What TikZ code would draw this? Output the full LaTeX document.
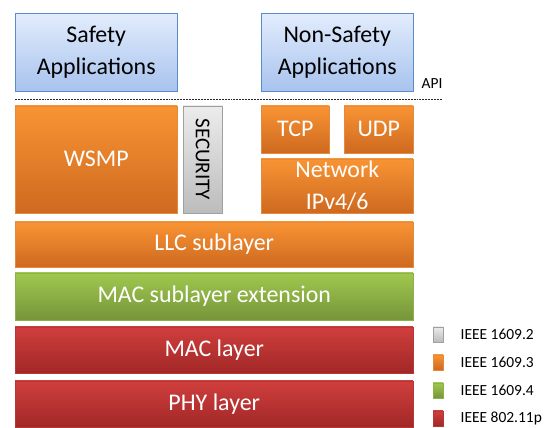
\documentclass[tikz,border=0pt]{standalone}
\usepackage{fontspec}
\setmainfont{Carlito}
\usepackage{tikz}
\usetikzlibrary{positioning}
\usetikzlibrary{shadows}

\definecolor{appTop}{HTML}{E2ECFC}
\definecolor{appBot}{HTML}{A8C3EE}
\definecolor{appEdge}{HTML}{5B8BC9}
\definecolor{orTop}{HTML}{F99434}
\definecolor{orBot}{HTML}{CE6920}
\definecolor{orEdge}{HTML}{E58A3C}
\definecolor{grTop}{HTML}{ECECEC}
\definecolor{grBot}{HTML}{BCBCBC}
\definecolor{grEdge}{HTML}{A0A0A0}
\definecolor{gnTop}{HTML}{A0C84E}
\definecolor{gnBot}{HTML}{76953A}
\definecolor{gnEdge}{HTML}{8FB04A}
\definecolor{rdTop}{HTML}{D03F3D}
\definecolor{rdBot}{HTML}{A12827}
\definecolor{rdEdge}{HTML}{B83634}

\tikzset{
  layerbox/.style={rectangle, line width=0.7pt, inner sep=0pt, anchor=south west, align=center, font=\fontsize{34}{45}\selectfont,
    drop shadow={opacity=0.2, shadow xshift=0.04cm, shadow yshift=-0.06cm}},
  appbox/.style={layerbox, draw=appEdge, top color=appTop, bottom color=appBot, text=black},
  orbox/.style={layerbox, draw=orEdge, top color=orTop, bottom color=orBot, text=white},
  grbox/.style={layerbox, draw=grEdge, top color=grTop, bottom color=grBot, text=black},
  gnbox/.style={layerbox, draw=gnEdge, top color=gnTop, bottom color=gnBot, text=white},
  rdbox/.style={layerbox, draw=rdEdge, top color=rdTop, bottom color=rdBot, text=white},
  legtext/.style={inner sep=0pt, anchor=west, font=\fontsize{22}{26}\selectfont}
}

\begin{document}
\begin{tikzpicture}

\useasboundingbox (0,0) rectangle (27.35,21.4);

% applications
\node at (0.75,16.85) [appbox, minimum width=8.1cm, minimum height=3.85cm] (safety) {Safety\\Applications};
\node at (13.05,16.85) [appbox, minimum width=7.6cm, minimum height=3.85cm] (nonsafety) {Non-Safety\\Applications};
\node at (21.6,17.2) [inner sep=0pt, font=\fontsize{22}{26}\selectfont] (api) {API};
\draw[black!85, line width=0.7pt, dash pattern=on 2.8pt off 1.4pt] (0.75,16.45) -- (22.15,16.45);

% upper stack
\node at (0.75,10.75) [orbox, minimum width=8.1cm, minimum height=5.35cm] (wsmp) {WSMP};
\node at (9.15,10.75) [grbox, minimum width=1.95cm, minimum height=5.35cm] (security) {};
\node[rotate=-90, font=\fontsize{30}{34}\selectfont, inner sep=0pt] at (security.center) (sectext) {SECURITY};
\node at (13.05,13.75) [orbox, minimum width=3.4cm, minimum height=2.35cm] (tcp) {TCP};
\node at (17.2,13.75) [orbox, minimum width=3.45cm, minimum height=2.35cm] (udp) {UDP};
\node at (13.05,10.75) [orbox, minimum width=7.6cm, minimum height=2.7cm] (network) {Network\\IPv4/6};

% lower stack
\node at (0.75,8.05) [orbox, minimum width=19.9cm, minimum height=2.25cm] (llc) {LLC sublayer};
\node at (0.75,5.4) [gnbox, minimum width=19.9cm, minimum height=2.35cm] (macext) {MAC sublayer extension};
\node at (0.75,2.75) [rdbox, minimum width=19.9cm, minimum height=2.3cm] (mac) {MAC layer};
\node at (0.75,0.05) [rdbox, minimum width=19.9cm, minimum height=2.3cm] (phy) {PHY layer};

% legend
\node at (21.65,4.3) [grbox, minimum width=0.5cm, minimum height=0.75cm] (leggr) {};
\node at (21.65,2.9) [orbox, minimum width=0.5cm, minimum height=0.75cm] (legor) {};
\node at (21.65,1.5) [gnbox, minimum width=0.5cm, minimum height=0.75cm] (leggn) {};
\node at (21.65,0.1) [rdbox, minimum width=0.5cm, minimum height=0.75cm] (legrd) {};
\node[legtext, right=0.85cm of leggr] (legtgr) {IEEE 1609.2};
\node[legtext, right=0.85cm of legor] (legtor) {IEEE 1609.3};
\node[legtext, right=0.85cm of leggn] (legtgn) {IEEE 1609.4};
\node[legtext, right=0.85cm of legrd] (legtrd) {IEEE 802.11p};

\end{tikzpicture}
\end{document}
